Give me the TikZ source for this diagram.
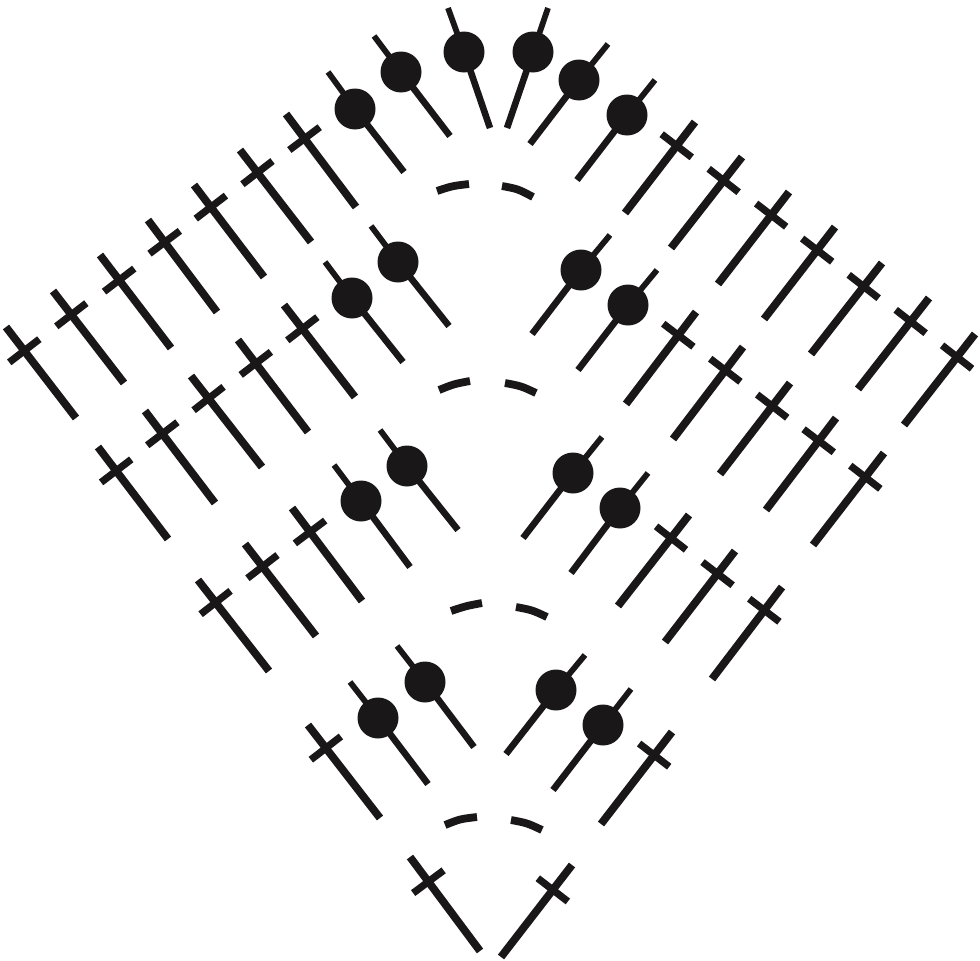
\documentclass[tikz,border=0pt]{standalone}
\usetikzlibrary{calc}
\definecolor{inkc}{HTML}{1A1718}
\tikzset{
  stemink/.style={line width=7.8pt,draw=inkc},
  barink/.style={line width=7.2pt,draw=inkc},
  stubink/.style={line width=5.8pt,draw=inkc},
  tailink/.style={line width=6.6pt,draw=inkc},
  arcink/.style={line width=7.8pt,draw=inkc},
  blob/.style={fill=inkc,draw=none},
  x=1pt,y=-1pt
}
\begin{document}
\begin{tikzpicture}
\useasboundingbox (0,0) rectangle (980,961);
% cross stitches: top x/y, bottom x/y, bar centre x/y
\foreach \a/\b/\c/\d/\e/\f in {
6/327/76/418/24/349, 53/291/124/383/71/313, 100/255/171/348/118/279, 148/220/217/312/165/240,
194/185/264/277/211/205, 240/150/311/242/257/171, 286/114/356/207/304/137,
695/122/625/213/677/144, 742/157/671/248/723/178, 789/192/718/284/771/213, 835/227/764/319/817/248,
882/263/811/354/863/284, 929/298/858/389/910/319, 975/334/904/425/957/355,
98/447/168/539/116/469, 145/411/215/503/162/432, 191/376/262/467/208/397, 238/340/308/432/255/362, 284/305/355/397/302/327,
696/312/626/404/678/333, 743/347/673/439/725/368, 790/383/720/474/772/404, 836/418/766/510/819/439, 884/453/813/545/865/475,
198/580/269/671/215/601, 245/544/316/636/262/565, 292/508/362/601/310/530,
689/515/618/606/671/536, 735/551/665/642/718/572, 782/587/712/679/764/608,
308/725/380/818/326/746, 672/732/601/824/654/753,
410/857/480/951/428/880, 572/865/501/957/553/888}{
  \coordinate (t) at (\a,\b);
  \coordinate (u) at (\c,\d);
  \coordinate (n) at (\e,\f+2);
  \coordinate (m) at ($(t)!(n)!(u)$);
  \draw[stemink] (t) -- (u);
  \draw[barink] ($(m)!19pt!90:(u)$) -- ($(m)!19pt!-90:(u)$);
}
% dot stitches: top x/y, bottom x/y, circle centre x/y
\foreach \a/\b/\c/\d/\e/\f in {
328/72/404/172/355/109, 374/36/450/136/401/72, 448/8/490/128/464/52,
548/8/507/128/533/52, 608/44/530/144/579/80, 655/80/577/180/627/115,
325/262/403/362/352/298, 371/226/449/326/398/262, 610/235/532/334/581/270, 657/270/578/370/628/305,
334/465/410/567/361/501, 380/430/458/530/407/466, 602/437/523/538/573/473, 648/473/571/573/620/508,
350/682/428/784/378/718, 397/646/474/747/425/682, 585/655/506/754/556/690, 631/689/553/790/603/725}{
  \draw[stubink] (\a,\b) -- (\e,\f);
  \draw[tailink] (\e,\f) -- (\c,\d);
  \fill[blob] (\e,\f) circle[radius=20.5pt];
}
% chain arcs
\foreach \a/\b/\c/\d/\e/\f in {
437/191/452/186/469/184, 502/186/518/189/533/197,
439/390/454/384/470/381, 505/383/521/386/536/393,
451/611/466/606/482/603, 516/607/532/610/547/617,
445/825/460/819/477/817, 511/820/527/823/542/830}{
  \draw[arcink] (\a,\b) .. controls (\c,\d) .. (\e,\f);
}
\end{tikzpicture}
\end{document}
